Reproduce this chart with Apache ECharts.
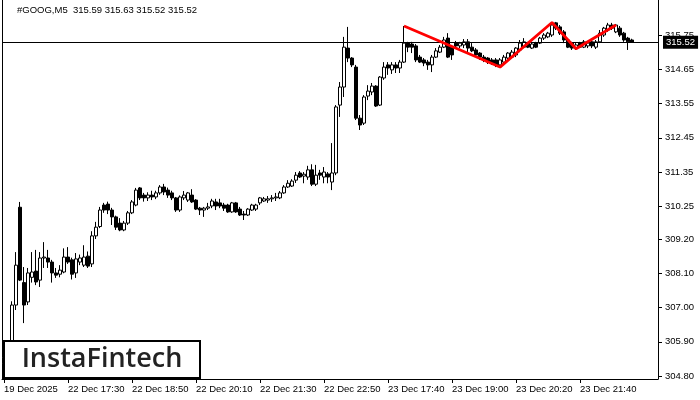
<!DOCTYPE html>
<html>
<head>
<meta charset="utf-8">
<script src="https://cdn.jsdelivr.net/npm/echarts@6/dist/echarts.min.js"></script>
<style>
html,body{margin:0;padding:0;background:#fff;}
#chart{width:700px;height:400px;}
</style>
</head>
<body>
<div id="chart"></div>
<script>
// ---- data ----
const symbolTitle = "#GOOG,M5  315.59 315.63 315.52 315.52";
const tickLabels = ["19 Dec 2025","22 Dec 17:30","22 Dec 18:50","22 Dec 20:10","22 Dec 21:30","22 Dec 22:50","23 Dec 17:40","23 Dec 19:00","23 Dec 20:20","23 Dec 21:40"];
const barsPerLabel = 16;
const slotCount = 164;
const yTickValues = [304.80,305.90,307.00,308.10,309.20,310.25,311.35,312.45,313.55,314.65,315.75];
const lastPrice = 315.52;

const openV = [305.20,305.40,305.60,307.08,310.22,307.80,307.18,307.97,308.17,307.88,
308.59,308.59,308.46,308.11,308.07,308.14,308.62,308.53,308.11,308.46,
308.36,308.65,308.40,309.30,309.60,310.29,310.32,310.13,309.91,309.71,
309.49,309.71,310.04,310.29,310.84,310.61,310.52,310.61,310.55,310.68,
310.87,310.77,310.68,310.52,310.13,310.52,310.45,310.61,310.45,310.19,
310.13,310.19,310.26,310.39,310.36,310.29,310.29,310.07,310.36,310.16,
310.00,309.97,310.13,310.16,310.36,310.42,310.45,310.49,310.52,310.52,
310.68,310.87,310.90,311.09,311.32,311.22,311.19,311.42,310.96,311.32,
311.19,311.29,311.03,311.32,313.50,314.08,315.33,315.01,314.72,313.08,
312.92,313.79,313.92,314.11,313.50,314.37,314.79,314.63,314.79,314.69,
314.88,315.49,315.46,315.40,315.04,314.95,314.88,314.79,315.04,315.20,
315.36,315.65,315.36,315.49,315.40,315.43,315.53,315.36,315.27,315.17,
315.04,315.01,314.95,314.95,314.79,314.88,315.01,315.04,315.11,315.27,
315.36,315.49,315.33,315.49,315.49,315.65,315.69,315.75,316.14,316.01,
315.85,315.59,315.49,315.33,315.49,315.36,315.40,315.53,315.36,315.53,
315.75,315.91,316.07,315.85,315.97,315.81,315.65,315.59];
const highV = [305.50,305.80,307.20,308.78,310.39,308.30,308.27,308.78,308.85,308.78,
309.10,308.85,308.53,308.27,308.36,308.90,308.94,308.60,308.75,308.70,
309.00,308.80,309.45,309.75,310.23,310.36,310.40,310.20,309.95,309.87,
309.78,310.10,310.45,310.84,310.87,310.68,310.70,310.75,310.75,310.93,
310.97,310.85,310.75,310.55,310.60,310.74,310.71,310.80,310.48,310.23,
310.23,310.36,310.49,310.49,310.49,310.36,310.33,310.39,310.39,310.23,
310.10,310.19,310.33,310.33,310.55,310.55,310.58,310.61,310.68,310.74,
310.93,311.09,311.12,311.35,311.38,311.35,311.55,311.60,311.58,311.42,
311.51,311.35,312.28,313.50,314.24,315.69,316.01,315.04,314.79,313.18,
313.82,314.14,314.21,314.14,314.43,314.88,314.88,314.88,314.88,314.95,
316.04,315.53,315.53,315.46,315.11,315.01,314.95,315.11,315.33,315.43,
315.69,315.81,315.43,315.56,315.53,315.62,315.62,315.49,315.33,315.20,
315.11,315.04,315.01,315.01,315.01,315.11,315.20,315.27,315.36,315.59,
315.65,315.53,315.53,315.53,315.69,315.81,315.85,316.17,316.17,316.07,
315.91,315.65,315.53,315.49,315.53,315.59,315.56,315.59,315.59,315.91,
316.01,316.14,316.14,316.10,316.04,315.85,315.69,315.63];
const lowV = [304.90,305.10,305.40,306.92,307.85,306.50,307.08,307.80,307.72,307.66,
308.27,308.27,307.80,307.95,307.97,308.10,308.40,307.90,307.95,308.36,
308.30,308.27,308.30,309.20,309.55,310.04,310.00,309.65,309.49,309.45,
309.45,309.65,310.00,310.25,310.45,310.40,310.42,310.45,310.48,310.62,
310.61,310.52,310.45,310.07,310.07,310.45,310.39,310.36,310.13,309.97,
309.91,310.13,310.19,310.13,310.19,310.10,310.04,310.04,310.04,309.94,
309.81,309.94,310.10,310.10,310.29,310.39,310.36,310.39,310.42,310.48,
310.65,310.84,310.87,311.00,311.16,310.99,311.10,310.90,310.90,311.10,
310.99,310.99,310.77,311.25,313.12,313.76,314.88,314.72,313.02,312.70,
312.86,313.66,313.82,313.44,313.47,314.31,314.47,314.50,314.53,314.53,
314.85,315.20,315.17,314.88,314.85,314.75,314.63,314.56,315.01,315.17,
315.33,315.01,314.95,315.33,315.33,315.33,315.20,315.20,315.04,314.95,
314.88,314.82,314.79,314.72,314.72,314.85,314.95,315.01,315.04,315.20,
315.33,315.33,315.30,315.33,315.46,315.59,315.65,315.69,315.91,315.75,
315.49,315.33,315.27,315.27,315.33,315.33,315.33,315.33,315.30,315.49,
315.69,315.85,315.91,315.81,315.69,315.53,315.27,315.52];
const closeV = [305.40,305.60,307.08,308.36,307.88,307.08,308.11,308.14,307.82,308.59,
308.62,308.46,308.11,308.04,308.20,308.62,308.46,308.07,308.56,308.59,
308.62,308.33,309.30,309.58,310.13,310.13,310.13,309.91,309.58,309.49,
309.71,310.04,310.39,310.77,310.52,310.52,310.61,310.55,310.68,310.87,
310.71,310.61,310.52,310.13,310.55,310.61,310.68,310.39,310.16,310.13,
310.19,310.23,310.42,310.26,310.26,310.19,310.07,310.36,310.07,309.97,
309.97,310.16,310.29,310.29,310.52,310.49,310.49,310.52,310.55,310.68,
310.87,310.99,311.06,311.25,311.19,311.28,311.42,310.96,311.25,311.25,
311.35,311.19,311.32,313.44,314.08,315.36,315.01,314.79,313.08,312.86,
313.76,313.95,314.11,313.47,314.40,314.72,314.69,314.79,314.69,314.88,
315.49,315.36,315.36,314.95,314.88,314.85,314.79,315.04,315.24,315.36,
315.59,315.04,315.11,315.40,315.49,315.53,315.33,315.24,315.11,315.04,
314.95,314.88,314.85,314.79,314.95,315.04,315.17,315.20,315.33,315.49,
315.53,315.36,315.46,315.36,315.65,315.75,315.81,316.07,315.97,315.81,
315.59,315.36,315.33,315.43,315.36,315.53,315.49,315.40,315.53,315.81,
315.97,316.07,315.97,316.07,315.75,315.59,315.53,315.52];

// red pattern line: [bar index, price]
const patternIdx = [100, 124, 137, 143, 153];
const patternPrice = [316.04, 314.72, 316.15, 315.31, 316.07];

// ---- build ----
const categories = [];
for (let i = 0; i < slotCount; i++) {
  const k = i / barsPerLabel;
  categories.push((i % barsPerLabel === 0 && k < tickLabels.length) ? tickLabels[k] : String(i));
}
const candles = openV.map((o, i) => [o, closeV[i], lowV[i], highV[i]]);
const pattern = patternIdx.map((x, i) => [x, patternPrice[i]]);
const showAt = (idx) => idx % barsPerLabel === 0 && idx / barsPerLabel < tickLabels.length;

const FONT = 'Liberation Sans';
const chart = echarts.init(document.getElementById('chart'), null, {renderer: 'canvas'});
chart.setOption({
  animation: false,
  backgroundColor: '#fff',
  grid: {left: 2, right: 42, top: 0, bottom: 21, containLabel: false, outerBoundsMode: 'none'},
  xAxis: {
    type: 'category',
    data: categories,
    boundaryGap: true,
    axisLine: {show: true, lineStyle: {color: '#000', width: 1}},
    axisTick: {show: true, alignWithLabel: true, length: 4, interval: (idx) => showAt(idx), lineStyle: {color: '#000'}},
    axisLabel: {show: true, interval: (idx) => showAt(idx), align: 'left', margin: 5,
      color: '#000', fontFamily: FONT, fontSize: 9.5, hideOverlap: false},
    splitLine: {show: false}
  },
  yAxis: [{
    type: 'value',
    position: 'right',
    min: 304.705,
    max: 316.874,
    scale: true,
    axisLine: {show: true, lineStyle: {color: '#000', width: 1}},
    axisTick: {show: true, length: 4, customValues: yTickValues, lineStyle: {color: '#000'}},
    axisLabel: {show: true, customValues: yTickValues, margin: 7, color: '#000',
      fontFamily: FONT, fontSize: 9.5, formatter: (v) => v.toFixed(2)},
    splitLine: {show: false}
  }, {
    type: 'value',
    position: 'left',
    min: 304.705,
    max: 316.874,
    axisLine: {show: true, lineStyle: {color: '#000', width: 1}},
    axisTick: {show: false},
    axisLabel: {show: false},
    splitLine: {show: false}
  }],
  series: [{
    type: 'candlestick',
    data: candles,
    barWidth: 3,
    itemStyle: {color: '#fff', color0: '#000', borderColor: '#000', borderColor0: '#000', borderColorDoji: '#000', borderWidth: 1},
    emphasis: {disabled: true},
    markLine: {
      silent: true,
      symbol: ['none', 'none'],
      animation: false,
      lineStyle: {color: '#000', width: 1, type: 'solid'},
      label: {show: true, position: 'end', distance: 5, formatter: lastPrice.toFixed(2),
        backgroundColor: '#000', color: '#fff', padding: [2, 3, 1, 3], fontFamily: FONT, fontSize: 9.5},
      emphasis: {disabled: true},
      data: [{yAxis: lastPrice}]
    }
  }, {
    type: 'line',
    data: pattern,
    symbol: 'none',
    lineStyle: {color: '#ff0000', width: 2.8},
    z: 5,
    silent: true
  }],
  graphic: [{
    type: 'text', left: 17, top: 5, z: 10,
    style: {text: symbolTitle, fill: '#000', font: '9.5px "Liberation Sans"'}
  }, {
    type: 'rect', z: 10,
    shape: {x: 4, y: 341, width: 196, height: 37},
    style: {fill: '#fff', stroke: '#000', lineWidth: 2}
  }, {
    type: 'text', z: 11, x: 102, y: 359,
    style: {text: 'InstaFintech', fill: '#222', font: '600 27px "Open Sans"', textAlign: 'center', textVerticalAlign: 'middle'}
  }]
});
</script>
</body>
</html>
